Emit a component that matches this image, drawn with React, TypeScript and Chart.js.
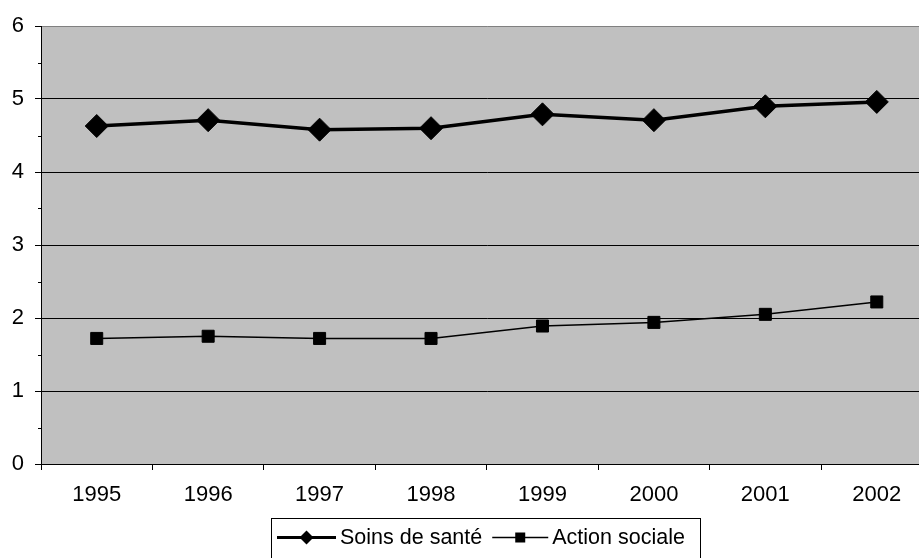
import React, { useEffect, useRef } from "react";
import { Chart, registerables } from "chart.js";

Chart.register(...registerables);

const categories = ["1995", "1996", "1997", "1998", "1999", "2000", "2001", "2002"];
const soinsDeSante = [4.63, 4.71, 4.58, 4.6, 4.79, 4.71, 4.9, 4.96];
const actionSociale = [1.72, 1.75, 1.72, 1.72, 1.89, 1.94, 2.05, 2.22];
const seriesNames = ["Soins de santé", "Action sociale"];
const yMin = 0;
const yMax = 6;

const FONT = "'Liberation Sans', Arial, sans-serif";

const bgPlugin = {
  id: "plotBg",
  beforeDraw(chart: any) {
    const { ctx, chartArea } = chart;
    ctx.save();
    ctx.fillStyle = "#C0C0C0";
    ctx.fillRect(chartArea.left, chartArea.top, chartArea.right - chartArea.left, chartArea.bottom - chartArea.top);
    ctx.restore();
  },
  afterDraw(chart: any) {
    const { ctx, chartArea } = chart;
    const y = chart.scales.y;
    ctx.save();
    // minor ticks
    ctx.strokeStyle = "#000";
    ctx.lineWidth = 1;
    for (let v = yMin + 0.5; v < yMax; v += 1) {
      const py = Math.round(y.getPixelForValue(v)) + 0.5;
      ctx.beginPath();
      ctx.moveTo(chartArea.left - 3, py);
      ctx.lineTo(chartArea.left + 1, py);
      ctx.stroke();
    }
    // legend
    ctx.font = `21.5px ${FONT}`;
    ctx.textBaseline = "middle";
    ctx.fillStyle = "#000";
    const boxL = 271.5;
    const boxT = 518.5;
    const ly = 537.5;
    let x = 277;
    const entries = [
      { name: seriesNames[0], lw: 3, marker: "diamond" },
      { name: seriesNames[1], lw: 1.5, marker: "square" },
    ];
    entries.forEach((e, i) => {
      const lineLen = i === 0 ? 59 : 56;
      ctx.lineWidth = e.lw;
      ctx.strokeStyle = "#000";
      ctx.beginPath();
      ctx.moveTo(x, ly);
      ctx.lineTo(x + lineLen, ly);
      ctx.stroke();
      const cx = x + lineLen / 2;
      ctx.beginPath();
      if (e.marker === "diamond") {
        const r = 7;
        ctx.moveTo(cx - r, ly);
        ctx.lineTo(cx, ly - r);
        ctx.lineTo(cx + r, ly);
        ctx.lineTo(cx, ly + r);
        ctx.closePath();
      } else {
        ctx.rect(cx - 5, ly - 5, 10, 10);
      }
      ctx.fill();
      x += lineLen + 4;
      ctx.fillText(e.name, x, ly + 1);
      x += ctx.measureText(e.name).width + 10;
    });
    const boxR = x + 6;
    ctx.lineWidth = 1;
    ctx.strokeStyle = "#000";
    ctx.strokeRect(boxL, boxT, Math.round(boxR - boxL), 80);
    ctx.restore();
  },
};

export default function App() {
  const ref = useRef<HTMLCanvasElement | null>(null);
  useEffect(() => {
    if (!ref.current) return;
    Chart.defaults.font.family = FONT;
    Chart.defaults.color = "#000";
    const chart = new Chart(ref.current, {
      type: "line",
      data: {
        labels: categories,
        datasets: [
          {
            label: seriesNames[0],
            data: soinsDeSante,
            borderColor: "#000",
            backgroundColor: "#000",
            borderWidth: 3.5,
            pointStyle: "rectRot",
            pointRadius: 11.5,
            pointBorderWidth: 1,
            pointBackgroundColor: "#000",
            pointBorderColor: "#000",
            tension: 0,
          },
          {
            label: seriesNames[1],
            data: actionSociale,
            borderColor: "#000",
            backgroundColor: "#000",
            borderWidth: 1.5,
            pointStyle: "rect",
            pointRadius: 8.5,
            pointBorderWidth: 1,
            pointBackgroundColor: "#000",
            pointBorderColor: "#000",
            tension: 0,
          },
        ],
      },
      options: {
        animation: false,
        responsive: false,
        layout: { padding: { top: 26, right: 11, bottom: 76, left: 0 } },
        plugins: { legend: { display: false }, tooltip: { enabled: false } },
        scales: {
          x: {
            type: "category",
            offset: true,
            grid: {
              offset: true,
              drawOnChartArea: false,
              drawTicks: true,
              tickLength: 6,
              color: "#000",
            },
            border: { display: true, color: "#000", width: 1 },
            ticks: { font: { size: 22 }, color: "#000", padding: 12, maxRotation: 0 },
            afterFit: (s: any) => {
              s.height = 40;
            },
          },
          y: {
            min: yMin,
            max: yMax,
            grid: {
              color: (c: any) => {
                const v = c.tick ? c.tick.value : 0;
                if (v === yMax) return "#808080";
                return Number.isInteger(v) ? "#000" : "rgba(0,0,0,0)";
              },
              tickColor: (c: any) => {
                const v = c.tick ? c.tick.value : 0;
                return Number.isInteger(v) ? "#000" : "rgba(0,0,0,0)";
              },
              tickLength: 6,
              lineWidth: 1,
            },
            border: { display: true, color: "#000", width: 1 },
            ticks: {
              stepSize: 0.5,
              autoSkip: false,
              font: { size: 22 },
              color: "#000",
              padding: 11,
              callback: (v: any) => (Number.isInteger(v) ? String(v) : ""),
            },
            afterFit: (s: any) => {
              s.width = 41;
            },
          },
        },
      },
      plugins: [bgPlugin],
    });
    return () => chart.destroy();
  }, []);
  return (
    <div style={{ position: "fixed", left: 0, top: 0, width: 945, height: 580 }}>
      <canvas ref={ref} width={945} height={580} />
    </div>
  );
}
